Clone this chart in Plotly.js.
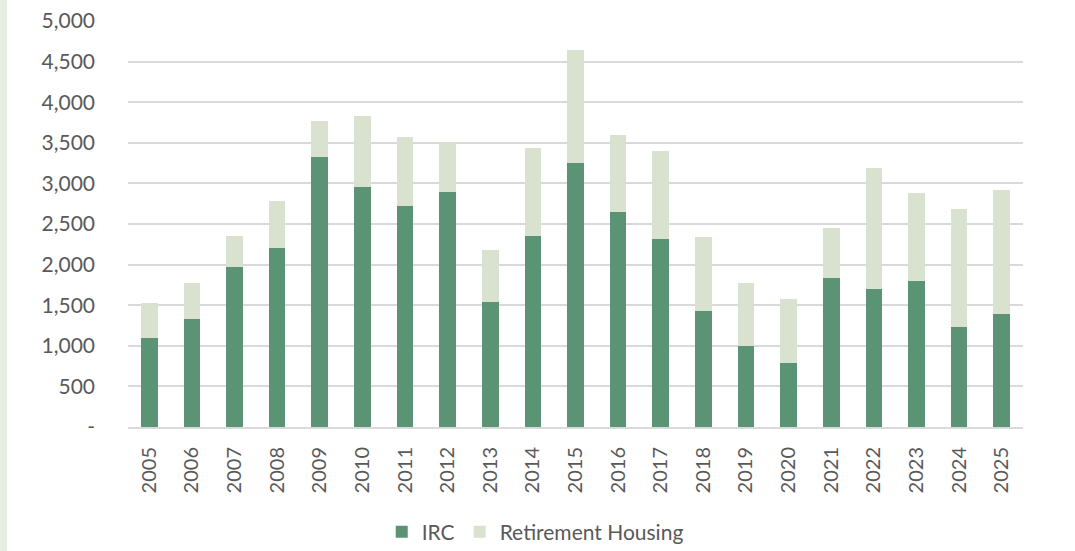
<!DOCTYPE html>
<html>
<head>
<meta charset="utf-8">
<script src="https://cdn.plot.ly/plotly-3.0.1.min.js"></script>
<style>
  html, body { margin: 0; padding: 0; background: #fff; }
  #strip { position: absolute; left: 0; top: 0; width: 7px; height: 551px; background: #E6EDE1; z-index: 5; }
  #chart { width: 1075px; height: 551px; }
</style>
</head>
<body>
<div id="strip"></div>
<div id="chart"></div>
<script>
const years = ["2005","2006","2007","2008","2009","2010","2011","2012","2013","2014","2015","2016","2017","2018","2019","2020","2021","2022","2023","2024","2025"];
const irc = [1090, 1330, 1970, 2210, 3320, 2950, 2720, 2890, 1535, 2350, 3255, 2650, 2310, 1430, 995, 790, 1835, 1700, 1800, 1230, 1395];
const retirementHousing = [440, 440, 378, 574, 444, 878, 846, 608, 641, 1080, 1387, 948, 1084, 915, 776, 781, 612, 1490, 1083, 1453, 1522];
const yTickVals = [0, 500, 1000, 1500, 2000, 2500, 3000, 3500, 4000, 4500, 5000];
const yTickText = ["-", "500", "1,000", "1,500", "2,000", "2,500", "3,000", "3,500", "4,000", "4,500", "5,000"];

const font = "Lato, 'Open Sans', sans-serif";
const data = [
  { type: "bar", name: "IRC", x: years, y: irc, marker: { color: "#5B9474", line: { width: 0 } } },
  { type: "bar", name: "Retirement Housing", x: years, y: retirementHousing, marker: { color: "#D9E2CF", line: { width: 0 } } }
];
const layout = {
  width: 1075, height: 551,
  barmode: "stack",
  bargap: 0.61,
  paper_bgcolor: "#fff", plot_bgcolor: "#fff",
  margin: { l: 128, r: 52, t: 21, b: 124, autoexpand: false },
  font: { family: font, color: "#595959", size: 21 },
  xaxis: {
    type: "category",
    automargin: false,
    tickangle: -90,
    tickfont: { size: 20, color: "#595959" },
    showgrid: false,
    showline: true, linecolor: "#D9D9D9", linewidth: 2,
    ticks: "", ticklabelstandoff: 10
  },
  yaxis: {
    automargin: false,
    range: [0, 5000],
    tickvals: yTickVals, ticktext: yTickText,
    tickfont: { size: 21, color: "#595959" },
    showgrid: true, gridcolor: "#D9D9D9", gridwidth: 2,
    zeroline: false, showline: false,
    ticks: "", ticklabelstandoff: 32
  },
  legend: {
    orientation: "h", x: 0.455, xanchor: "center", y: -0.259, yanchor: "middle",
    font: { size: 21, color: "#595959" }, traceorder: "normal",
    itemwidth: 30
  },
  showlegend: true
};
Plotly.newPlot("chart", data, layout, { displayModeBar: false, staticPlot: true });
</script>
</body>
</html>
